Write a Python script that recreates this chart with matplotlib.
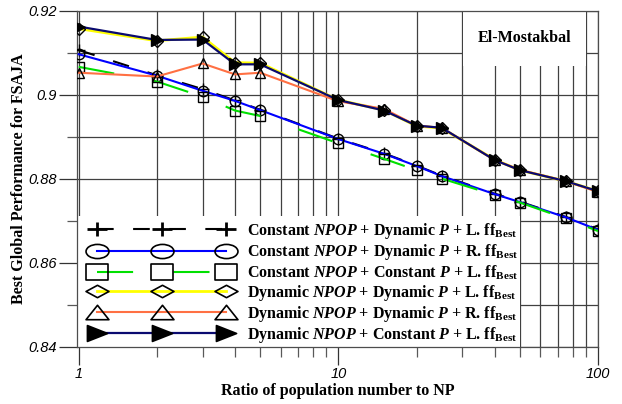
import numpy as np
import matplotlib
matplotlib.use("Agg")
import matplotlib.pyplot as plt
from matplotlib.lines import Line2D
from matplotlib.path import Path
from matplotlib.patches import Rectangle
from matplotlib.transforms import Affine2D
from matplotlib.ticker import LogLocator, NullFormatter

plt.rcParams["font.family"] = "Liberation Serif"
plt.rcParams["font.weight"] = "bold"
plt.rcParams["axes.labelweight"] = "bold"
plt.rcParams["mathtext.fontset"] = "custom"
plt.rcParams["mathtext.rm"] = "Liberation Serif:bold"
plt.rcParams["mathtext.it"] = "Liberation Serif:italic:bold"
plt.rcParams["mathtext.sf"] = "Liberation Serif"
plt.rcParams["lines.scale_dashes"] = False

# ratio of population number to NP
ratio = [1, 2, 3, 4, 5, 10, 15, 20, 25, 40, 50, 75, 100]

const_dynp_l = [0.9107, 0.9047, 0.9014, 0.8987, 0.8965, 0.8896, 0.8861,
                0.8832, 0.8808, 0.8765, 0.8746, 0.8710, 0.8680]
const_dynp_r = [0.9097, 0.9046, 0.9010, 0.8986, 0.8964, 0.8895, 0.8860,
                0.8831, 0.8807, 0.8764, 0.8745, 0.8709, 0.8679]
const_constp_l = [0.9067, 0.9032, 0.8996, 0.8963, 0.8950, 0.8885, 0.8848,
                  0.8821, 0.8801, 0.8762, 0.8744, 0.8706, 0.8676]
dyn_dynp_l = [0.9158, 0.9129, 0.9138, 0.9077, 0.9076, 0.8988, 0.8964,
              0.8926, 0.8921, 0.8846, 0.8821, 0.8795, 0.8771]
dyn_dynp_r = [0.9053, 0.9044, 0.9075, 0.9049, 0.9053, 0.8985, 0.8967,
              0.8927, 0.8922, 0.8845, 0.8822, 0.8795, 0.8769]
dyn_constp_l = [0.9163, 0.9131, 0.9132, 0.9073, 0.9073, 0.8988, 0.8963,
                0.8927, 0.8922, 0.8845, 0.8821, 0.8795, 0.8771]

labels = [
    r"Constant $NPOP$ + Dynamic $P$ + L. $\mathrm{ff}_{\mathsf{Best}}$",
    r"Constant $NPOP$ + Dynamic $P$ + R. $\mathrm{ff}_{\mathsf{Best}}$",
    r"Constant $NPOP$ + Constant $P$ + L. $\mathrm{ff}_{\mathsf{Best}}$",
    r"Dynamic $NPOP$ + Dynamic $P$ + L. $\mathrm{ff}_{\mathsf{Best}}$",
    r"Dynamic $NPOP$ + Dynamic $P$ + R. $\mathrm{ff}_{\mathsf{Best}}$",
    r"Dynamic $NPOP$ + Constant $P$ + L. $\mathrm{ff}_{\mathsf{Best}}$",
]
series = [const_dynp_l, const_dynp_r, const_constp_l, dyn_dynp_l, dyn_dynp_r, dyn_constp_l]

x_ticks = [1, 10, 100]
x_tick_labels = ["1", "10", "100"]
y_ticks = [0.84, 0.86, 0.88, 0.9, 0.92]
y_tick_labels = ["0.84", "0.86", "0.88", "0.9", "0.92"]
y_minor = [0.85, 0.87, 0.89, 0.91]


def stretched(path, sx, sy=1.0):
    return Affine2D().scale(sx, sy).transform_path(path)


plus_path = Path([(-1, 0), (1, 0), (0, -1), (0, 1)],
                 [Path.MOVETO, Path.LINETO, Path.MOVETO, Path.LINETO])
square_path = Path([(-1, -1), (1, -1), (1, 1), (-1, 1), (-1, -1)], closed=True)
diamond_path = Path([(-1, 0), (0, -1), (1, 0), (0, 1), (-1, 0)], closed=True)
tri_up_path = Path([(-1, -1), (1, -1), (0, 1), (-1, -1)], closed=True)
tri_right_path = Path([(-1, -1), (1, 0), (-1, 1), (-1, -1)], closed=True)

# plot style / legend style per series
styles = [
    dict(color="black", lw=1.5, dashes=(12, 14), marker="+", ms=9, mfc="none",
         leg_marker=stretched(plus_path, 1.3), leg_ms=14, leg_mew=2.0),
    dict(color="#0000ff", lw=1.5, dashes=None, marker="o", ms=7.5, mfc="none",
         leg_marker=stretched(Path.unit_circle(), 1.62), leg_ms=16.5, leg_mew=1.2),
    dict(color="#00e000", lw=1.5, dashes=(26, 29), marker="s", ms=7, mfc="none",
         leg_marker=stretched(square_path, 1.45), leg_ms=16.5, leg_mew=1.2),
    dict(color="#ffff00", lw=2.0, dashes=None, marker="D", ms=6, mfc="none",
         leg_marker=stretched(diamond_path, 1.85), leg_ms=16.5, leg_mew=1.2),
    dict(color="#ff7043", lw=1.5, dashes=None, marker="^", ms=7.5, mfc="none",
         leg_marker=stretched(tri_up_path, 1.59), leg_ms=16.5, leg_mew=1.2),
    dict(color="#0a0a70", lw=1.6, dashes=None, marker=">", ms=8.5, mfc="black",
         leg_marker=stretched(tri_right_path, 1.27), leg_ms=14.5, leg_mew=1.2),
]

fig = plt.figure(figsize=(6.22, 4.04), dpi=100)
ax = fig.add_axes([0.1238, 0.1411, 0.8376, 0.8317])

handles = []
for vals, st in zip(series, styles):
    kw = dict(color=st["color"], lw=st["lw"], mfc=st["mfc"], mec="black")
    if st["dashes"] is not None:
        kw["dashes"] = st["dashes"]
    ax.plot(ratio, vals, marker=st["marker"], ms=st["ms"], mew=1.0, zorder=3, **kw)
    handles.append(Line2D([], [], marker=st["leg_marker"], ms=st["leg_ms"],
                          mew=st["leg_mew"], **kw))

ax.set_xscale("log")
ax.set_xlim(0.985, 100)
ax.set_ylim(0.84, 0.92)
ax.set_xticks(x_ticks, labels=x_tick_labels)
ax.xaxis.set_minor_locator(LogLocator(base=10, subs=np.arange(2, 10)))
ax.xaxis.set_minor_formatter(NullFormatter())
ax.set_yticks(y_ticks, labels=y_tick_labels)
ax.set_yticks(y_minor, minor=True)

ax.grid(True, which="both", color="0.25", lw=0.9)
ax.set_axisbelow(True)
ax.tick_params(which="major", direction="out", length=13, width=0.9,
               pad=1.5, labelsize=10.5, colors="0.2")
ax.tick_params(which="minor", direction="out", length=7, width=0.9, colors="0.35")
for lab in ax.get_xticklabels() + ax.get_yticklabels():
    lab.set_fontfamily("Liberation Sans")
    lab.set_fontstyle("italic")
    lab.set_fontweight("normal")
    lab.set_color("black")
for sp in ax.spines.values():
    sp.set_color("0.3")
    sp.set_linewidth(0.9)

ax.set_xlabel("Ratio of population number to NP", fontsize=11.5,
              fontweight="bold", labelpad=1)
ax.set_ylabel("Best Global Performance for FSAJA", fontsize=11.5,
              fontweight="bold", labelpad=1)

# white areas behind legend and site label
ax.add_patch(Rectangle((0, 0), 0.85, 0.39, transform=ax.transAxes,
                       facecolor="white", edgecolor="none", zorder=1.5))
ax.add_patch(Rectangle((0.741, 0.836), 0.236, 0.164, transform=ax.transAxes,
                       facecolor="white", edgecolor="none", zorder=1.5))
ax.text(0.859, 0.92, "El-Mostakbal", transform=ax.transAxes, ha="center",
        va="center", fontsize=11.5, fontweight="bold", zorder=4)

ax.legend(handles=handles, labels=labels, loc="lower left",
          bbox_to_anchor=(0.029, 0.006), borderaxespad=0, borderpad=0,
          frameon=False, numpoints=3, handlelength=8.7, handletextpad=1.0,
          labelspacing=0.07, fontsize=11.5)

fig.savefig("out.png", dpi=100)
